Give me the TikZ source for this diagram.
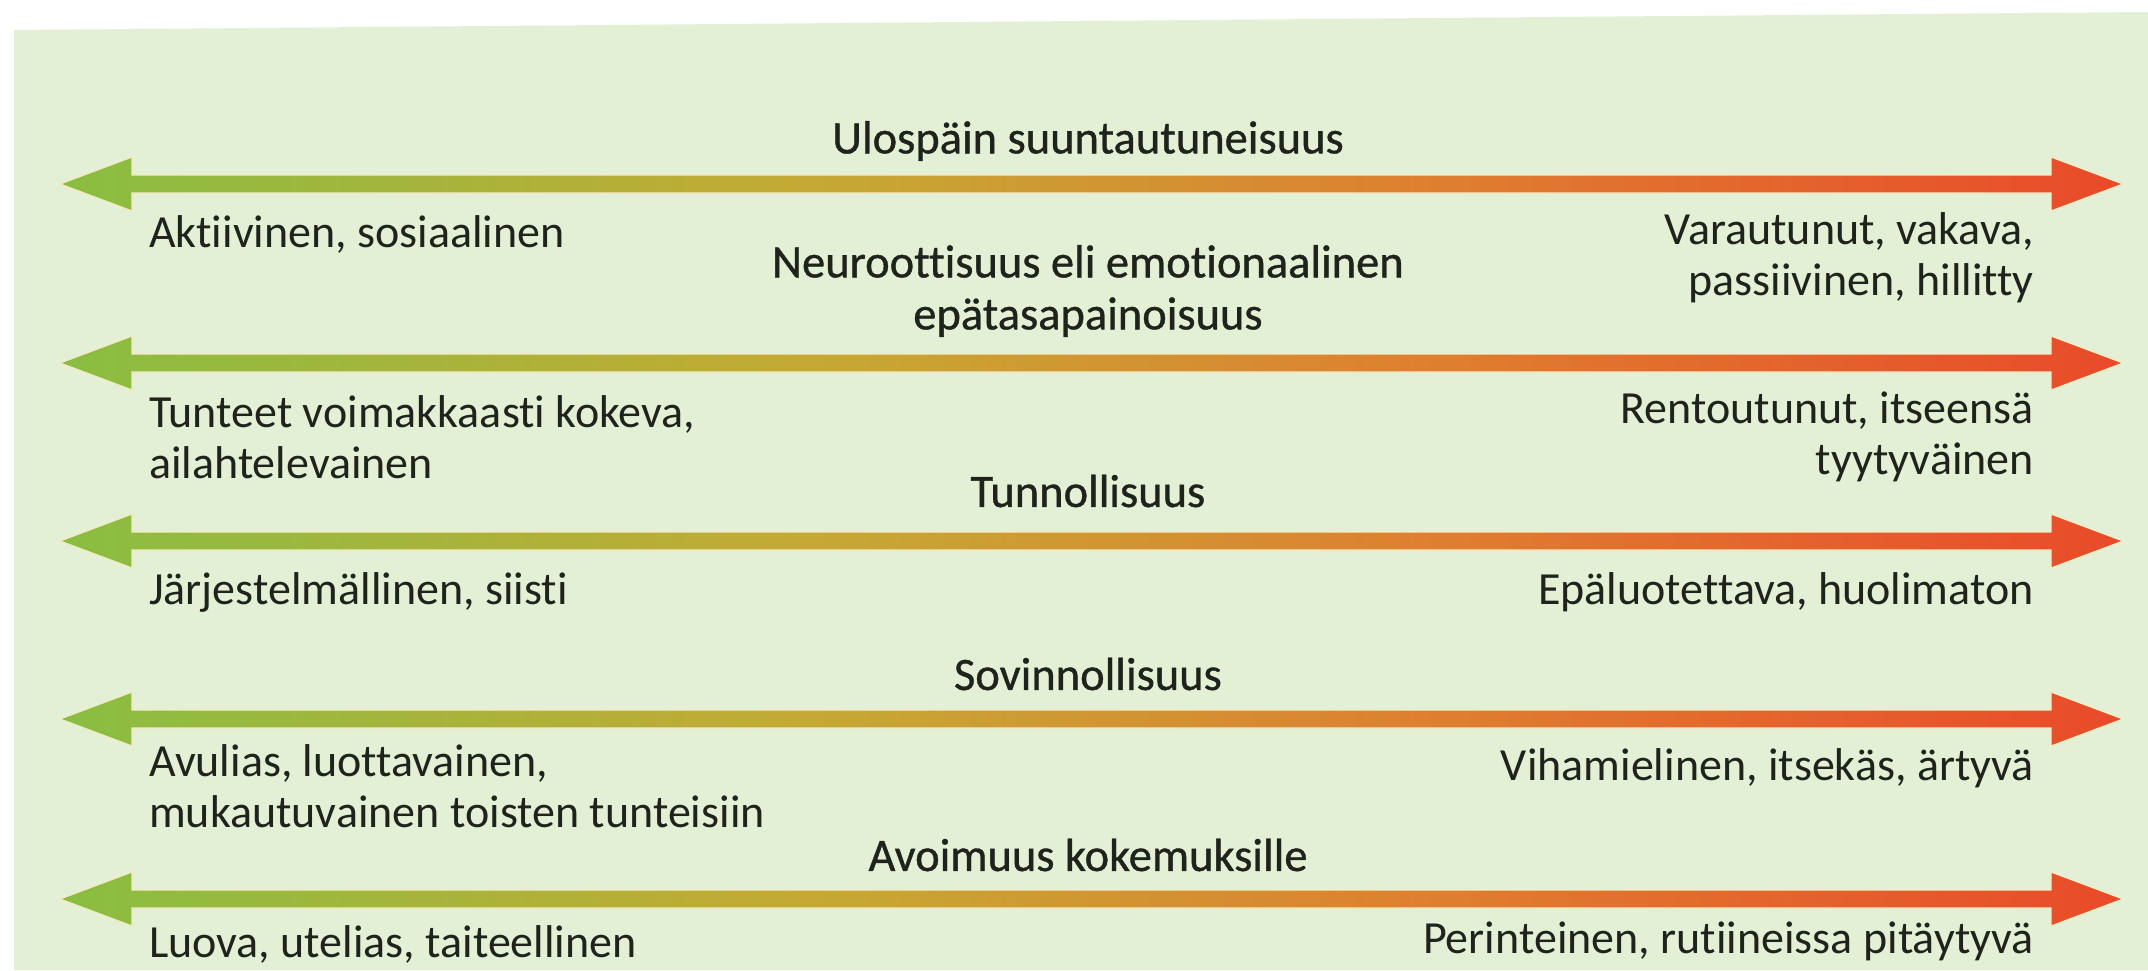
\documentclass[tikz,border=0pt]{standalone}
\usepackage{fontspec}
\setmainfont{Carlito}[Ligatures=NoCommon]
\newfontfamily\titlefont{Carlito}[FakeBold=0.8,Ligatures=NoCommon]
\usetikzlibrary{calc}
\definecolor{panel}{RGB}{228,240,214}
\definecolor{agreen}{RGB}{137,190,66}
\definecolor{agold}{RGB}{196,170,52}
\definecolor{aorange}{RGB}{222,128,48}
\definecolor{ared}{RGB}{233,74,42}
\definecolor{halo}{RGB}{244,236,196}
\definecolor{txt}{RGB}{30,36,28}
\pgfdeclarehorizontalshading{bigfive}{100bp}{color(0bp)=(agreen); color(25bp)=(agreen); color(43bp)=(agold); color(58bp)=(aorange); color(75bp)=(ared); color(100bp)=(ared)}
\begin{document}
\begin{tikzpicture}[x=1pt,y=-1pt,
  lbl/.style={font=\fontsize{46}{51}\selectfont, text=txt, inner sep=0pt},
  ttl/.style={font=\titlefont\fontsize{46.5}{52}\selectfont, text=txt, inner sep=0pt, align=center},
  arrowsty/.style={shading=bigfive, draw=halo, line width=1.2pt}]
\useasboundingbox (0,0) rectangle (2148,970);
\fill[white] (0,0) rectangle (2148,970);
\fill[panel] (14,30) -- (2148,12) -- (2148,970) -- (14,970) -- cycle;
\foreach \y/\n in {184/a1,363/a2,541/a3,719/a4,899/a5}{
  \coordinate (\n-l) at (60,\y);
  \coordinate (\n-r) at (2123,\y);
  \shade[arrowsty] (\n-l) -- ++(72,-27) -- ++(0,18) -- ($(\n-r)+(-72,-9)$) -- ++(0,-18) -- (\n-r)
     -- ++(-72,27) -- ++(0,-18) -- ($(\n-l)+(72,9)$) -- ++(0,18) -- cycle;
}
% titles
\node[ttl] (t1) at (1088,141) {Ulospäin suuntautuneisuus};
\node[ttl] (t2) at (1088,291) {Neuroottisuus eli emotionaalinen\\epätasapainoisuus};
\node[ttl] (t3) at (1088,491) {Tunnollisuus};
\node[ttl] (t4) at (1088,674) {Sovinnollisuus};
\node[ttl] (t5) at (1088,855) {Avoimuus kokemuksille};
% left labels
\node[lbl, anchor=west] (l1) at (149,234) {Aktiivinen, sosiaalinen};
\node[lbl, anchor=west, align=left] (l2) at (149,437) {Tunteet voimakkaasti kokeva,\\ailahtelevainen};
\node[lbl, anchor=west] (l3) at (149,592) {Järjestelmällinen, siisti};
\node[lbl, anchor=west, align=left] (l4) at (149,786) {Avulias, luottavainen,\\mukautuvainen toisten tunteisiin};
\node[lbl, anchor=west] (l5) at (149,944) {Luova, utelias, taiteellinen};
% right labels
\node[lbl, anchor=east, align=right] (r1) at (2034,258) {Varautunut, vakava,\\passiivinen, hillitty};
\node[lbl, anchor=east, align=right] (r2) at (2034,437) {Rentoutunut, itseensä\\tyytyväinen};
\node[lbl, anchor=east] (r3) at (2034,592) {Epäluotettava, huolimaton};
\node[lbl, anchor=east] (r4) at (2034,768) {Vihamielinen, itsekäs, ärtyvä};
\node[lbl, anchor=east] (r5) at (2034,941) {Perinteinen, rutiineissa pitäytyvä};
\end{tikzpicture}
\end{document}
